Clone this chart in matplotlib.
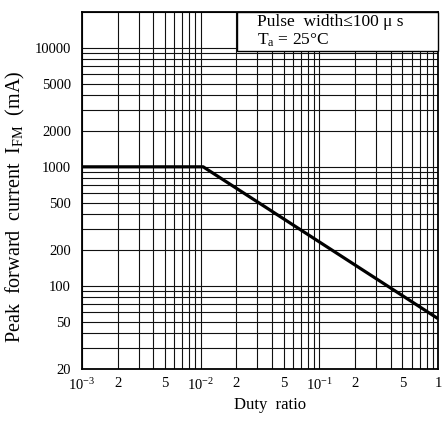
import matplotlib
matplotlib.use("Agg")
import matplotlib.pyplot as plt
from matplotlib.patches import Rectangle
from matplotlib.ticker import FixedLocator, LogLocator, NullFormatter

# Data
duty = [0.001, 0.0105, 1.0]
ifm = [1000, 1000, 53]

xticks = [0.001, 0.002, 0.005, 0.01, 0.02, 0.05, 0.1, 0.2, 0.5, 1.0]
xticklabels = ["10$^{-3}$", "2", "5", "10$^{-2}$", "2", "5", "10$^{-1}$", "2", "5", "1"]
yticks = [20, 50, 100, 200, 500, 1000, 2000, 5000, 10000]
yticklabels = ["20", "50", "100", "200", "500", "1000", "2000", "5000", "10000"]

plt.rcParams['font.family'] = ['Liberation Serif', 'DejaVu Serif']
plt.rcParams['mathtext.fontset'] = 'custom'
plt.rcParams['mathtext.rm'] = 'Liberation Serif'
plt.rcParams['mathtext.it'] = 'Liberation Serif:italic'
plt.rcParams['mathtext.bf'] = 'Liberation Serif:bold'

fig = plt.figure(figsize=(4.42, 4.22), dpi=100)
ax = fig.add_axes([82/442, 53/422, 356/442, 357/422])

ax.set_xscale('log')
ax.set_yscale('log')
ax.set_xlim(0.001, 1.0)
ax.set_ylim(20, 20000)

ax.plot(duty, ifm, color='black', lw=2.3, solid_capstyle='butt', zorder=3)

ax.xaxis.set_major_locator(FixedLocator(xticks))
ax.set_xticklabels(xticklabels, fontsize=10.5)
ax.xaxis.set_minor_locator(LogLocator(base=10, subs=range(1, 10), numticks=50))
ax.xaxis.set_minor_formatter(NullFormatter())
ax.yaxis.set_major_locator(FixedLocator(yticks))
ax.set_yticklabels(yticklabels, fontsize=10.5)
ax.yaxis.set_minor_locator(LogLocator(base=10, subs=range(1, 10), numticks=50))
ax.yaxis.set_minor_formatter(NullFormatter())

ax.grid(True, which='both', color='#111111', lw=0.8)
ax.tick_params(which='both', length=0)
ax.tick_params(axis='x', pad=6)
ax.tick_params(axis='y', pad=8)
for s in ax.spines.values():
    s.set_linewidth(1.3)
    s.set_color('black')

# Condition box
x0 = (237 - 82) / 356
y0 = (369 - 51) / 357
ax.add_patch(Rectangle((x0, y0), 1 - x0, 1 - y0, transform=ax.transAxes,
                       facecolor='white', edgecolor='black', lw=1.0, zorder=4, clip_on=False))
ax.text((257 - 82) / 356, (369 - 26) / 357, "Pulse  width\u2264100 \u03bc s", transform=ax.transAxes,
        fontsize=12.5, ha='left', va='baseline', zorder=5)
ax.text((257 - 82) / 356, (369 - 45) / 357, "T$_{\\rm a}$ = 25\u00b0C", transform=ax.transAxes,
        fontsize=12.5, ha='left', va='baseline', zorder=5)

fig.text(15/442, 1 - 207/422, "Peak  forward  current  I$_{\\rm FM}$  (mA)",
         rotation=90, ha='center', va='center', fontsize=14.5)
fig.text(270/442, 1 - 405/422, "Duty  ratio", ha='center', va='center', fontsize=12)

fig.savefig("out.png", dpi=100)
